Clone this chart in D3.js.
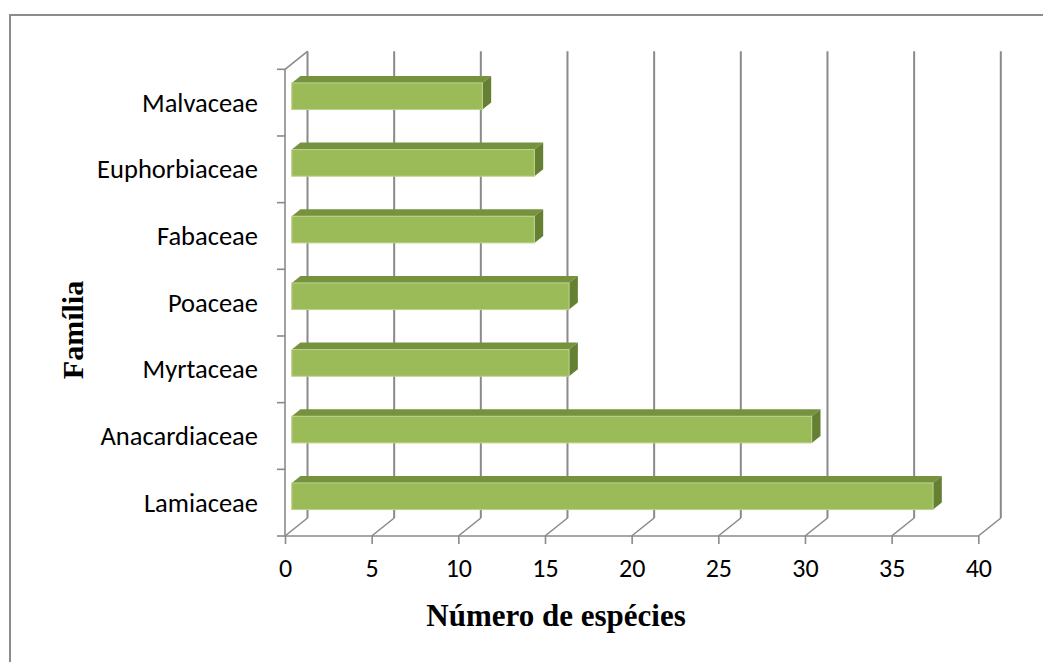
<!DOCTYPE html>
<html>
<head>
<meta charset="utf-8">
<script src="https://cdn.jsdelivr.net/npm/d3@7"></script>
<style>
  html, body { margin: 0; padding: 0; background: #fff; }
  svg { display: block; }
</style>
</head>
<body>
<script>
// Families (top to bottom) and number of species per family
const families = ["Malvaceae", "Euphorbiaceae", "Fabaceae", "Poaceae", "Myrtaceae", "Anacardiaceae", "Lamiaceae"];
const speciesCount = [11, 14, 14, 16, 16, 30, 37];
const xTicks = [0, 5, 10, 15, 20, 25, 30, 35, 40];
const xTitle = "Número de espécies";
const yTitle = "Família";

const W = 1043, H = 662;
const svg = d3.select("body").append("svg").attr("width", W).attr("height", H);

// Chart frame (only top and left edges fall inside the canvas)
svg.append("path")
  .attr("d", `M10,${H} L10,15 L${W},15`)
  .attr("fill", "none").attr("stroke", "#8c8c8c").attr("stroke-width", 2);

// Oblique 3-D depth offsets
const depthX = 22.5, depthY = -18;

const x = d3.scaleLinear().domain([0, 40]).range([285, 978.3]);
const y = d3.scaleBand().domain(families).range([69.3, 536]).paddingInner(0).paddingOuter(0);

const gridColor = "#8a8a8a";
const labelFont = "Carlito, Lato, 'Open Sans', sans-serif";
const g = svg.append("g");

// Back-wall vertical gridlines and floor diagonals
xTicks.forEach(t => {
  const fx = x(t), fy = y.range()[1];
  g.append("line")
    .attr("x1", fx + depthX).attr("x2", fx + depthX)
    .attr("y1", y.range()[0] + depthY).attr("y2", fy + depthY)
    .attr("stroke", gridColor).attr("stroke-width", 2);
  g.append("line")
    .attr("x1", fx).attr("y1", fy)
    .attr("x2", fx + depthX).attr("y2", fy + depthY)
    .attr("stroke", gridColor).attr("stroke-width", 1.6);
});

// Left wall: vertical axis and top diagonal, plus the front floor edge
g.append("path")
  .attr("d", `M${x(0) + depthX},${y.range()[0] + depthY} L${x(0)},${y.range()[0]} L${x(0)},${y.range()[1]} L${x(40)},${y.range()[1]}`)
  .attr("fill", "none").attr("stroke", gridColor).attr("stroke-width", 1.6);

// Category tick marks at band boundaries
const boundaries = families.map(f => y(f)).concat([y.range()[1]]);
boundaries.forEach(b => {
  g.append("line")
    .attr("x1", x(0) - 8).attr("x2", x(0))
    .attr("y1", b).attr("y2", b)
    .attr("stroke", gridColor).attr("stroke-width", 1.6);
});

// Bottom value axis: tick marks and labels
const xAxis = d3.axisBottom(x).tickValues(xTicks).tickSize(8).tickPadding(15).tickFormat(d3.format("d"));
const ax = svg.append("g").attr("transform", `translate(0,${y.range()[1]})`).call(xAxis);
ax.select(".domain").remove();
ax.selectAll(".tick line").attr("stroke", gridColor).attr("stroke-width", 1.6);
ax.selectAll(".tick text")
  .attr("fill", "#000")
  .style("font-family", labelFont)
  .style("font-size", "26px");

// Category labels
svg.append("g").selectAll("text").data(families).join("text")
  .attr("x", 258)
  .attr("y", d => y(d) + y.bandwidth() / 2)
  .attr("text-anchor", "end")
  .attr("dominant-baseline", "central")
  .style("font-family", labelFont)
  .style("font-size", "26.5px")
  .attr("fill", "#000")
  .text(d => d);

// 3-D bars: front face, top face and right side face
const d0 = 0.3, d1 = 0.69;            // bar depth span (fraction of wall depth)
const barFrac = 0.4;                   // bar thickness as fraction of band
const bars = svg.append("g");
families.forEach((f, i) => {
  const v = speciesCount[i];
  const ox = depthX * d0, oy = depthY * d0;
  const bx = depthX * (d1 - d0), by = depthY * (d1 - d0);
  const h = y.bandwidth() * barFrac;
  const top = y(f) + (y.bandwidth() - h) / 2 + oy - 1;
  const left = x(0) + ox;
  const right = x(v) + ox;

  // top face
  bars.append("path")
    .attr("d", `M${left},${top} L${left + bx},${top + by} L${right + bx},${top + by} L${right},${top} Z`)
    .attr("fill", "#77923f");
  // right side face
  bars.append("path")
    .attr("d", `M${right},${top} L${right + bx},${top + by} L${right + bx},${top + by + h} L${right},${top + h} Z`)
    .attr("fill", "#657f33");
  // front face
  bars.append("rect")
    .attr("x", left).attr("y", top)
    .attr("width", right - left).attr("height", h)
    .attr("fill", "#9bbb59")
    .attr("stroke", "#bcd38e").attr("stroke-width", 1);
});

// Axis titles
svg.append("text")
  .attr("x", 556).attr("y", 626)
  .attr("text-anchor", "middle")
  .style("font-family", "'Liberation Serif', 'Times New Roman', serif")
  .style("font-weight", "bold")
  .style("font-size", "31px")
  .attr("fill", "#000")
  .text(xTitle);

svg.append("text")
  .attr("transform", "translate(83,330) rotate(-90)")
  .attr("text-anchor", "middle")
  .style("font-family", "'Liberation Serif', 'Times New Roman', serif")
  .style("font-weight", "bold")
  .style("font-size", "30px")
  .attr("fill", "#000")
  .text(yTitle);
</script>
</body>
</html>
